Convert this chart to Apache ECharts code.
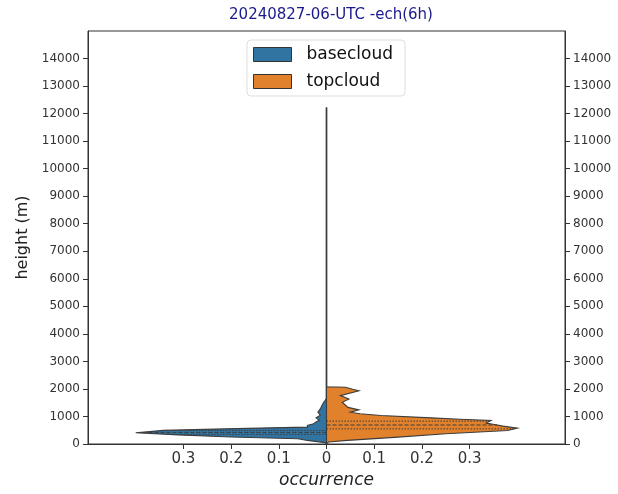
<!DOCTYPE html>
<html>
<head>
<meta charset="utf-8">
<script src="https://cdn.jsdelivr.net/npm/echarts@6/dist/echarts.min.js"></script>
<style>
  html, body { margin: 0; padding: 0; background: #fff; }
  #chart { width: 618px; height: 494px; }
</style>
</head>
<body>
<div id="chart"></div>
<script>
// violin halves: height (m) and half width (occurrence)
const baseHeights = [0, 50, 130, 190, 253, 330, 408, 450, 494, 560, 614, 673, 733, 794, 860, 950, 1046, 1150, 1275, 1380, 1516, 1577, 1650, 12200];
const baseWidths  = [0, 0.003, 0.04, 0.06, 0.2, 0.31, 0.40, 0.37, 0.343, 0.19, 0.04, 0.04, 0.027, 0.023, 0.015, 0.022, 0.013, 0.018, 0.013, 0.01, 0.006, 0.003, 0.0006, 0.0006];

const topHeights = [0, 70, 130, 250, 370, 490, 577, 650, 710, 758, 855, 900, 950, 1035, 1100, 1155, 1240, 1330, 1516, 1636, 1757, 1937, 1990, 2060, 2080, 12200];
const topWidths  = [0, 0.004, 0.044, 0.15, 0.25, 0.38, 0.40, 0.37, 0.352, 0.335, 0.345, 0.28, 0.219, 0.114, 0.07, 0.05, 0.068, 0.045, 0.033, 0.047, 0.029, 0.068, 0.055, 0.04, 0.0006, 0.0006];

// quartile heights (Q1, median, Q3)
const baseQuartiles = [350, 420, 490];
const topQuartiles = [550, 690, 830];

const xTicks = [-0.3, -0.2, -0.1, 0, 0.1, 0.2, 0.3];
const yTicks = [0, 1000, 2000, 3000, 4000, 5000, 6000, 7000, 8000, 9000, 10000, 11000, 12000, 13000, 14000];

const BLUE = '#3274a1';
const ORANGE = '#e1812c';
const EDGE = '#3d3d3d';

function widthAt(hs, ws, h) {
  for (let i = 1; i < hs.length; i++) {
    if (h <= hs[i]) {
      const t = (h - hs[i - 1]) / (hs[i] - hs[i - 1]);
      return ws[i - 1] + t * (ws[i] - ws[i - 1]);
    }
  }
  return 0;
}

function halfViolin(hs, ws, quarts, side, fill) {
  return function (params, api) {
    const pts = hs.map((h, i) => api.coord([side * ws[i], h]));
    pts.push(api.coord([0, hs[hs.length - 1]]));
    const children = [{
      type: 'polygon',
      shape: { points: pts },
      style: { fill: fill, stroke: EDGE, lineWidth: 1.1 }
    }];
    quarts.forEach((q, k) => {
      const a = api.coord([0, q]);
      const b = api.coord([side * widthAt(hs, ws, q), q]);
      children.push({
        type: 'line',
        shape: { x1: a[0], y1: a[1], x2: b[0], y2: b[1] },
        style: { stroke: EDGE, lineWidth: 1, lineDash: k === 1 ? [4, 2] : [1.5, 1.5] }
      });
    });
    return { type: 'group', children: children };
  };
}

const chart = echarts.init(document.getElementById('chart'));
const fontFam = 'DejaVu Sans';

const yAxisBase = {
  type: 'value',
  min: 0,
  max: 15000,
  interval: 1000,
  axisLine: { show: true, onZero: false, lineStyle: { color: '#333', width: 1 } },
  axisTick: { show: true, length: 5, lineStyle: { color: '#333' }, customValues: yTicks },
  axisLabel: { fontSize: 12, color: '#333', fontFamily: fontFam, margin: 8, customValues: yTicks, formatter: v => String(v) },
  splitLine: { show: false }
};

chart.setOption({
  animation: false,
  textStyle: { fontFamily: fontFam },
  title: {
    text: '20240827-06-UTC -ech(6h)',
    left: 326,
    top: 3,
    textAlign: 'center',
    textStyle: { color: '#1a1a8f', fontSize: 15, fontWeight: 'normal', fontFamily: fontFam }
  },
  legend: {
    orient: 'vertical',
    left: 247,
    top: 40,
    padding: [6, 12, 6, 6],
    itemWidth: 38,
    itemHeight: 14,
    itemGap: 10,
    backgroundColor: '#fff',
    borderColor: '#ddd',
    borderWidth: 1,
    borderRadius: 4,
    textStyle: { fontSize: 17, color: '#111', fontFamily: fontFam, padding: [0, 0, 0, 10] },
    data: [
      { name: 'basecloud', icon: 'rect', itemStyle: { color: BLUE, borderColor: '#333', borderWidth: 1 } },
      { name: 'topcloud', icon: 'rect', itemStyle: { color: ORANGE, borderColor: '#333', borderWidth: 1 } }
    ]
  },
  grid: {
    left: 88,
    right: 53,
    top: 31,
    bottom: 47,
    show: true,
    borderColor: '#333',
    borderWidth: 1,
    containLabel: false
  },
  xAxis: {
    type: 'value',
    min: -0.5,
    max: 0.5,
    interval: 0.1,
    name: 'occurrence',
    nameLocation: 'middle',
    nameGap: 28,
    nameTextStyle: { fontSize: 17, fontStyle: 'italic', color: '#222', fontFamily: fontFam },
    axisLine: { show: true, onZero: false, lineStyle: { color: '#333', width: 1 } },
    axisTick: { show: true, length: 5, lineStyle: { color: '#333' }, customValues: xTicks },
    axisLabel: {
      fontSize: 15,
      color: '#333',
      fontFamily: fontFam,
      margin: 8,
      customValues: xTicks,
      formatter: v => String(Math.round(Math.abs(v) * 10) / 10)
    },
    splitLine: { show: false }
  },
  yAxis: [
    Object.assign({}, yAxisBase, {
      position: 'left',
      name: 'height (m)',
      nameLocation: 'middle',
      nameGap: 57,
      nameTextStyle: { fontSize: 16, color: '#222', fontFamily: fontFam }
    }),
    Object.assign({}, yAxisBase, { position: 'right' })
  ],
  series: [
    {
      name: 'basecloud',
      type: 'custom',
      coordinateSystem: 'cartesian2d',
      itemStyle: { color: BLUE },
      data: [[0, 0]],
      renderItem: halfViolin(baseHeights, baseWidths, baseQuartiles, -1, BLUE),
      clip: true
    },
    {
      name: 'topcloud',
      type: 'custom',
      coordinateSystem: 'cartesian2d',
      itemStyle: { color: ORANGE },
      data: [[0, 0]],
      renderItem: halfViolin(topHeights, topWidths, topQuartiles, 1, ORANGE),
      clip: true
    }
  ]
});
</script>
</body>
</html>
